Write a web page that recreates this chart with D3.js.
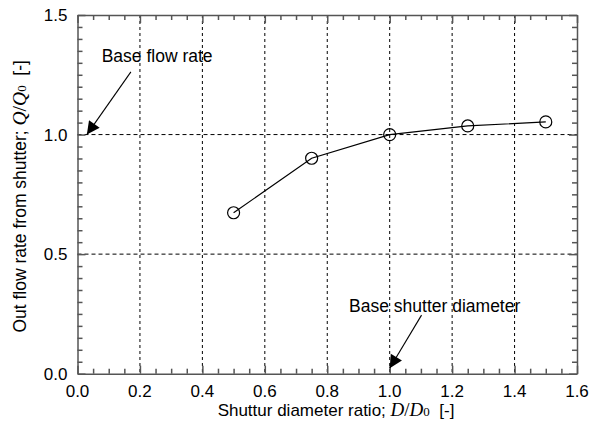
<!DOCTYPE html>
<html>
<head>
<meta charset="utf-8">
<script src="https://cdn.jsdelivr.net/npm/d3@7"></script>
<style>
  body { margin: 0; background: #fff; }
  svg { font-family: "Liberation Sans", Arial, sans-serif; }
</style>
</head>
<body>
<div id="wrapper"></div>
<script>
// data
const ratio = [0.5, 0.75, 1.0, 1.25, 1.5];
const flow = [0.673, 0.901, 1.0, 1.036, 1.053];
const xTicks = [0, 0.2, 0.4, 0.6, 0.8, 1.0, 1.2, 1.4, 1.6];
const yTicks = [0, 0.5, 1.0, 1.5];
const xGrid = [0.2, 0.4, 0.6, 0.8, 1.0, 1.2, 1.4];
const yGrid = [0.5, 1.0];
const notes = [
  {text: "Base flow rate", tx: 0.0775, ty: 1.305, x1: 0.171, y1: 1.262, x2: 0.03, y2: 1.0},
  {text: "Base shutter diameter", tx: 0.87, ty: 0.259, x1: 1.102, y1: 0.245, x2: 1.0, y2: 0.023}
];

function buildPlot() {
  const dimension = {
    width: 590,
    height: 427,
    margin: {left: 77.5, right: 13, top: 15, bottom: 53.3}
  };

  const svg = d3.select("#wrapper").append("svg")
    .attr("width", dimension.width)
    .attr("height", dimension.height);

  const x = d3.scaleLinear().domain([0, 1.6])
    .range([dimension.margin.left, dimension.width - dimension.margin.right]);
  const y = d3.scaleLinear().domain([0, 1.5])
    .range([dimension.height - dimension.margin.bottom, dimension.margin.top]);

  const [x0, x1] = x.range();
  const [yb, yt] = y.range();

  // grid
  svg.append("g").selectAll("line").data(xGrid).join("line")
    .attr("x1", d => x(d)).attr("x2", d => x(d))
    .attr("y1", yt).attr("y2", yb)
    .attr("stroke", "#000").attr("stroke-width", 1)
    .attr("stroke-dasharray", "3,3");
  svg.append("g").selectAll("line").data(yGrid).join("line")
    .attr("x1", x0).attr("x2", x1)
    .attr("y1", d => y(d)).attr("y2", d => y(d))
    .attr("stroke", "#000").attr("stroke-width", 1)
    .attr("stroke-dasharray", "4,3");

  // axes with inward ticks on all sides
  const xMinor = d3.range(0, 1.6001, 0.05);
  const yMinor = d3.range(0, 1.5001, 0.05);
  const isMajor = (v, step) => Math.abs(v / step - Math.round(v / step)) < 1e-6;

  const axisColor = "#555";
  const tickLen = d => isMajor(d, 0.2) ? 8 : 5;
  const tickLenY = d => isMajor(d, 0.5) ? 8 : 5;

  const gxb = svg.append("g").attr("transform", `translate(0,${yb})`)
    .call(d3.axisBottom(x).tickValues(xMinor).tickSizeInner(0).tickSizeOuter(0).tickFormat(""));
  gxb.selectAll(".tick line").attr("y2", d => -tickLen(d));
  const gxt = svg.append("g").attr("transform", `translate(0,${yt})`)
    .call(d3.axisTop(x).tickValues(xMinor).tickSizeInner(0).tickSizeOuter(0).tickFormat(""));
  gxt.selectAll(".tick line").attr("y2", d => tickLen(d));
  const gyl = svg.append("g").attr("transform", `translate(${x0},0)`)
    .call(d3.axisLeft(y).tickValues(yMinor).tickSizeInner(0).tickSizeOuter(0).tickFormat(""));
  gyl.selectAll(".tick line").attr("x2", d => tickLenY(d));
  const gyr = svg.append("g").attr("transform", `translate(${x1},0)`)
    .call(d3.axisRight(y).tickValues(yMinor).tickSizeInner(0).tickSizeOuter(0).tickFormat(""));
  gyr.selectAll(".tick line").attr("x2", d => -tickLenY(d));

  [gxb, gxt, gyl, gyr].forEach(g => {
    g.selectAll("path, line").attr("stroke", axisColor).attr("stroke-width", 1.5);
  });

  // tick labels
  svg.append("g").selectAll("text").data(xTicks).join("text")
    .attr("x", d => x(d)).attr("y", yb + 23)
    .attr("text-anchor", "middle").style("font-size", "17px")
    .text(d => d3.format(".1f")(d));
  svg.append("g").selectAll("text").data(yTicks).join("text")
    .attr("x", x0 - 10).attr("y", d => y(d) + 6)
    .attr("text-anchor", "end").style("font-size", "17px")
    .text(d => d3.format(".1f")(d));

  // axis titles
  const serif = "Liberation Serif, serif";
  const xt = svg.append("text")
    .attr("x", 336).attr("y", 416)
    .attr("text-anchor", "middle").style("font-size", "17px");
  xt.append("tspan").text("Shuttur diameter ratio; ");
  xt.append("tspan").attr("font-family", serif).attr("font-style", "italic").style("font-size", "19px").text("D");
  xt.append("tspan").attr("font-family", serif).style("font-size", "19px").text("/");
  xt.append("tspan").attr("font-family", serif).attr("font-style", "italic").style("font-size", "19px").text("D");
  xt.append("tspan").attr("font-family", serif).style("font-size", "13px").text("0");
  xt.append("tspan").text("\u00a0 [-]");

  const yl = svg.append("text")
    .attr("transform", `translate(26,${(yt + yb) / 2 + 2}) rotate(-90)`)
    .attr("text-anchor", "middle").style("font-size", "17.5px");
  yl.append("tspan").text("Out flow rate from shutter; ");
  yl.append("tspan").attr("font-family", serif).attr("font-style", "italic").style("font-size", "19.5px").text("Q");
  yl.append("tspan").attr("font-family", serif).style("font-size", "19.5px").text("/");
  yl.append("tspan").attr("font-family", serif).attr("font-style", "italic").style("font-size", "19.5px").text("Q");
  yl.append("tspan").attr("font-family", serif).style("font-size", "13px").text("0");
  yl.append("tspan").text("\u00a0 [-]");

  // data line and markers
  const pts = ratio.map((r, i) => [r, flow[i]]);
  svg.append("path")
    .attr("d", d3.line().x(d => x(d[0])).y(d => y(d[1]))(pts))
    .attr("fill", "none").attr("stroke", "#000").attr("stroke-width", 1.2);
  svg.append("g").selectAll("circle").data(pts).join("circle")
    .attr("cx", d => x(d[0])).attr("cy", d => y(d[1])).attr("r", 6)
    .attr("fill", "none").attr("stroke", "#000").attr("stroke-width", 1.2);

  // annotations
  svg.append("defs").append("marker")
    .attr("id", "arrow").attr("viewBox", "0 0 10 10")
    .attr("refX", 10).attr("refY", 5)
    .attr("markerWidth", 17).attr("markerHeight", 13)
    .attr("markerUnits", "userSpaceOnUse")
    .attr("orient", "auto")
    .append("path").attr("d", "M0,0 L10,5 L0,10 Z").attr("fill", "#000");

  notes.forEach(n => {
    svg.append("text").attr("x", x(n.tx)).attr("y", y(n.ty))
      .style("font-size", "17.5px").text(n.text);
    svg.append("line")
      .attr("x1", x(n.x1)).attr("y1", y(n.y1))
      .attr("x2", x(n.x2)).attr("y2", y(n.y2))
      .attr("stroke", "#000").attr("stroke-width", 1.1)
      .attr("marker-end", "url(#arrow)");
  });
}
buildPlot();
</script>
</body>
</html>
